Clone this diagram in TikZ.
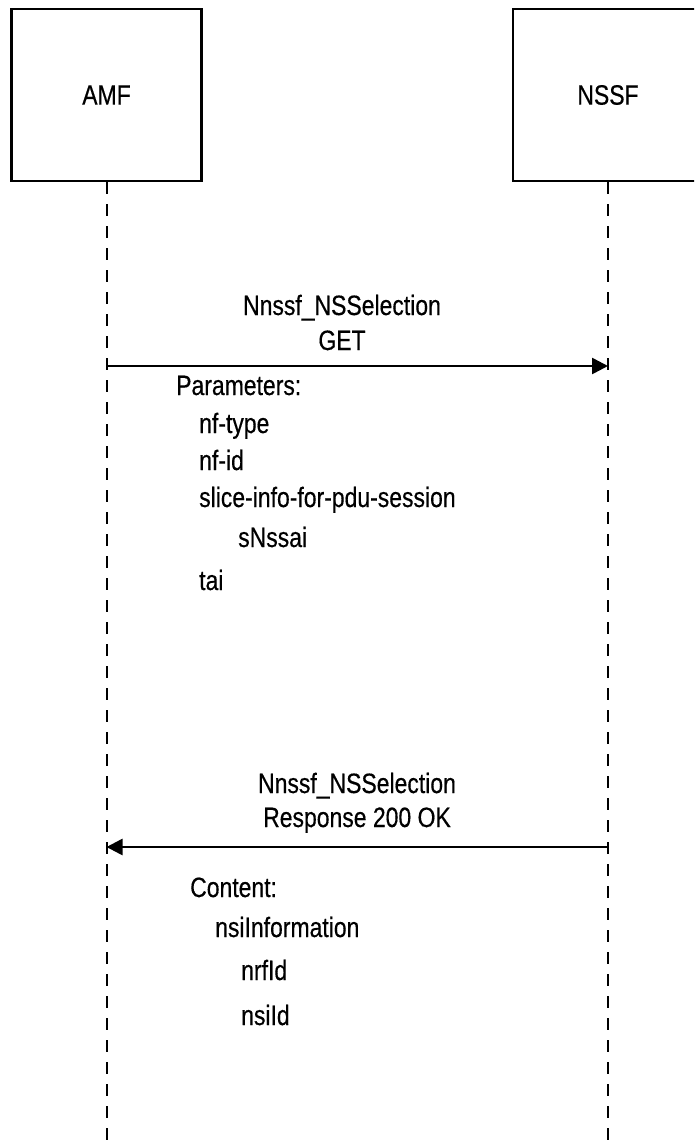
\documentclass[tikz,border=0pt]{standalone}
\usepackage{fontspec}
\setmainfont[FakeStretch=0.82,FakeBold=0.4]{Liberation Sans}
\usetikzlibrary{arrows.meta}
\begin{document}
\begin{tikzpicture}[x=1pt,y=-1pt,
  entity/.style={draw=black,line width=2.6pt,minimum width=190pt,minimum height=172pt,inner sep=0pt,font=\fontsize{28}{34}\selectfont},
  lifeline/.style={line width=2pt,dash pattern=on 12pt off 10pt},
  msg/.style={line width=2.6pt,-{Triangle[length=16pt,width=16pt]}},
  lbl/.style={inner sep=0pt,font=\fontsize{28}{34}\selectfont},
  txt/.style={inner sep=0pt,anchor=base west,font=\fontsize{28}{34}\selectfont}]
\clip (0,0) rectangle (694,1145);
\node[entity] (amf) at (106.5,95) {AMF};
\node[entity] (nssf) at (608,95) {NSSF};
\coordinate (amfend) at (106.5,1150);
\coordinate (nssfend) at (608,1150);
\draw[lifeline] (amf.south) -- (amfend);
\draw[lifeline] (nssf.south) -- (nssfend);
\coordinate (a1) at (106.5,366);
\coordinate (n1) at (608,366);
\coordinate (a2) at (106.5,847);
\coordinate (n2) at (608,847);
\draw[msg] (a1) -- (n1);
\draw[msg] (n2) -- (a2);
\node[lbl,anchor=base] (l1a) at (342,315) {Nnssf\_NSSelection};
\node[lbl,anchor=base] (l1b) at (342,350) {GET};
\node[lbl,anchor=base] (l2a) at (357,793) {Nnssf\_NSSelection};
\node[lbl,anchor=base] (l2b) at (357,827) {Response 200 OK};
\node[txt] (p0) at (176,395) {Parameters:};
\node[txt] (p1) at (199,433) {nf-type};
\node[txt] (p2) at (199,470) {nf-id};
\node[txt] (p3) at (199,507) {slice-info-for-pdu-session};
\node[txt] (p4) at (238,547) {sNssai};
\node[txt] (p5) at (199,590) {tai};
\node[txt] (c0) at (190,897) {Content:};
\node[txt] (c1) at (215,937) {nsiInformation};
\node[txt] (c2) at (241,980) {nrfId};
\node[txt] (c3) at (241,1025) {nsiId};
\end{tikzpicture}
\end{document}
